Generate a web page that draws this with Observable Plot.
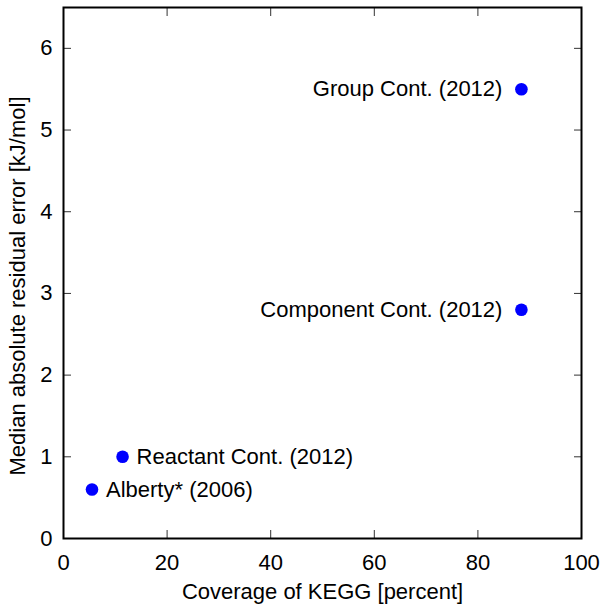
<!DOCTYPE html>
<html><head><meta charset="utf-8">
<script src="https://cdn.jsdelivr.net/npm/d3@7"></script>
<script src="https://cdn.jsdelivr.net/npm/@observablehq/plot@0.6"></script>
<style>body{margin:0;background:#fff}</style>
</head><body><div id="chart"></div>
<script>
const methods = ["Alberty* (2006)", "Reactant Cont. (2012)", "Component Cont. (2012)", "Group Cont. (2012)"];
const coverage = [5.5, 11.4, 88.4, 88.4];
const medianError = [0.6, 1.0, 2.8, 5.5];
const xTicks = [0, 20, 40, 60, 80, 100];
const yTicks = [0, 1, 2, 3, 4, 5, 6];
const xLabel = "Coverage of KEGG [percent]";
const yLabel = "Median absolute residual error [kJ/mol]";

const data = methods.map((m, i) => ({method: m, x: coverage[i], y: medianError[i]}));
const rightLabeled = data.filter(d => d.x < 50);
const leftLabeled = data.filter(d => d.x >= 50);
const fmt = d => String(d);

const chart = Plot.plot({
  width: 603, height: 609,
  marginLeft: 63, marginRight: 22, marginTop: 7, marginBottom: 71,
  style: {fontFamily: "'Liberation Sans', Arial, sans-serif", fontSize: "22px", color: "#000", background: "#fff"},
  x: {domain: [0, 100]},
  y: {domain: [0, 6.5]},
  marks: [
    Plot.axisX(xTicks, {anchor: "bottom", tickSize: 0, tickPadding: 16, tickFormat: fmt, label: xLabel, labelAnchor: "center", labelArrow: "none", labelOffset: 60, fontSize: 22}),
    Plot.axisX(xTicks, {anchor: "bottom", tickSize: -8, tickFormat: () => "", label: null, stroke: "#333"}),
    Plot.axisX(xTicks, {anchor: "top", tickSize: -8, tickFormat: () => "", label: null, stroke: "#333"}),
    Plot.axisY(yTicks, {anchor: "left", tickSize: 0, tickPadding: 11, tickFormat: fmt, label: null, fontSize: 22}),
    Plot.text([yLabel], {frameAnchor: "left", rotate: -90, dx: -46, dy: 13, textAnchor: "middle", lineAnchor: "middle", fill: "#000", fontSize: 22}),
    Plot.axisY(yTicks, {anchor: "left", tickSize: -8, tickFormat: () => "", label: null, stroke: "#333"}),
    Plot.axisY(yTicks, {anchor: "right", tickSize: -8, tickFormat: () => "", label: null, stroke: "#333"}),
    Plot.frame({stroke: "#000", strokeWidth: 2}),
    Plot.dot(data, {x: "x", y: "y", r: 6.3, fill: "#0000ff", stroke: null}),
    Plot.text(rightLabeled, {x: "x", y: "y", text: "method", textAnchor: "start", dx: 14, fill: "#000", fontSize: 22}),
    Plot.text(leftLabeled, {x: "x", y: "y", text: "method", textAnchor: "end", dx: -19, fill: "#000", fontSize: 22})
  ]
});
document.getElementById("chart").appendChild(chart);
</script>
</body></html>
